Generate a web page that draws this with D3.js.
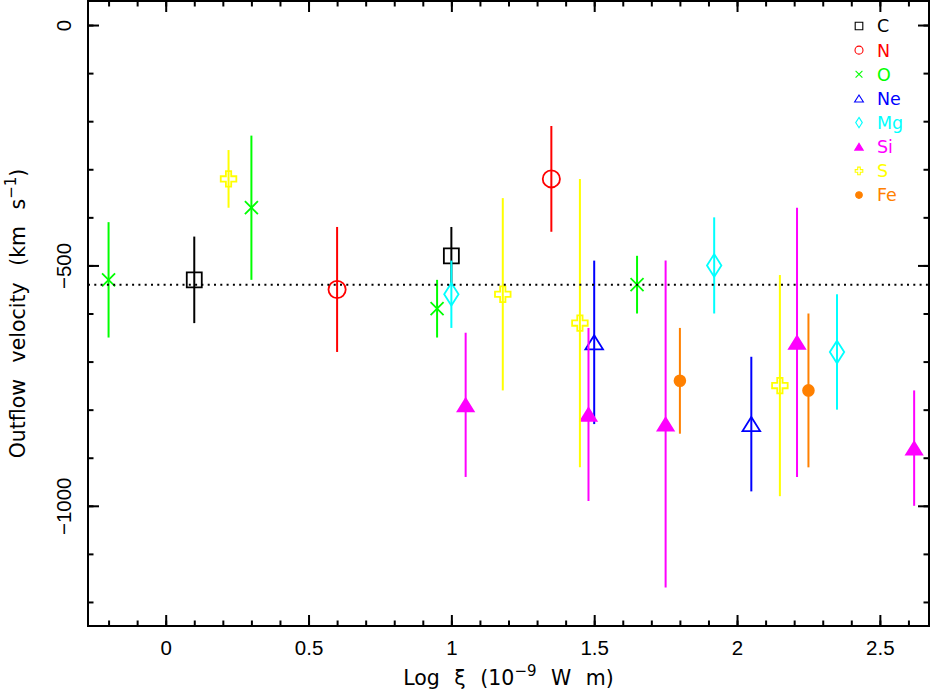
<!DOCTYPE html>
<html>
<head>
<meta charset="utf-8">
<script src="https://cdn.jsdelivr.net/npm/d3@7"></script>
<style>
  html, body { margin: 0; padding: 0; background: #fff; }
  svg { display: block; font-family: "DejaVu Sans", sans-serif; }
</style>
</head>
<body>
<div id="chart"></div>
<script>
// Outflow velocity per ion vs ionisation parameter, PGPLOT-style frame.

const elements = ["C", "N", "O", "Ne", "Mg", "Si", "S", "Fe"];
const elemColors = ["#000000", "#ff0000", "#00ff00", "#0000ff", "#00ffff", "#ff00ff", "#ffff00", "#ff8000"];

// one entry per measurement
const pointElem = ["O", "C", "S", "O", "N", "O", "C", "Mg", "Si", "S", "N", "S",
                   "Si", "Ne", "O", "Si", "Fe", "Mg", "Ne", "S", "Si", "Fe", "Mg", "Si"];
const pointXi   = [-0.2, 0.1, 0.22, 0.3, 0.6, 0.95, 1.0, 1.0, 1.05, 1.18, 1.35, 1.45,
                   1.48, 1.5, 1.65, 1.75, 1.8, 1.92, 2.05, 2.15, 2.21, 2.25, 2.35, 2.62];
const pointVel  = [-530, -530, -320, -380, -550, -590, -480, -560, -790, -560, -320, -620,
                   -810, -660, -540, -830, -740, -500, -830, -750, -660, -760, -680, -880];
const pointErr  = [120, 90, 60, 150, 130, 60, 60, 70, 150, 200, 110, 300,
                   180, 170, 60, 340, 110, 100, 140, 230, 280, 160, 120, 120];

const meanVel = -540;
const xMajor = [0, 0.5, 1, 1.5, 2, 2.5];
const yMajor = [0, -500, -1000];

const W = 931, H = 692;
const m = { t: 1, r: 2, b: 66, l: 88 };

// marker shapes (size = half width in px)
const symSquare = { draw(c, s) { c.rect(-s, -s, 2 * s, 2 * s); } };
const symCircle = { draw(c, s) { c.moveTo(s, 0); c.arc(0, 0, s, 0, 2 * Math.PI); } };
const symX = { draw(c, s) { c.moveTo(-s, -s); c.lineTo(s, s); c.moveTo(s, -s); c.lineTo(-s, s); } };
const symTri = { draw(c, s) { const h = s * 0.8; c.moveTo(0, -h); c.lineTo(s, h); c.lineTo(-s, h); c.closePath(); } };
const symDiamond = { draw(c, s) { const h = s * 1.57; c.moveTo(0, -h); c.lineTo(s, 0); c.lineTo(0, h); c.lineTo(-s, 0); c.closePath(); } };
const symPlus = { draw(c, s) {
  const a = s * 0.34;
  c.moveTo(-a, -s); c.lineTo(a, -s); c.lineTo(a, -a); c.lineTo(s, -a); c.lineTo(s, a); c.lineTo(a, a);
  c.lineTo(a, s); c.lineTo(-a, s); c.lineTo(-a, a); c.lineTo(-s, a); c.lineTo(-s, -a); c.lineTo(-a, -a); c.closePath();
} };

const markers = {
  C:  { type: symSquare,  size: 7.5, leg: 3.8, fill: false },
  N:  { type: symCircle,  size: 8.6, leg: 4.0, fill: false },
  O:  { type: symX,       size: 6.5, leg: 3.4, fill: false },
  Ne: { type: symTri,     size: 8.8, leg: 4.4, fill: false },
  Mg: { type: symDiamond, size: 7.2, leg: 3.3, fill: false },
  Si: { type: symTri,     size: 8.0, leg: 4.2, fill: true },
  S:  { type: symPlus,    size: 7.8, leg: 3.8, fill: false },
  Fe: { type: symCircle,  size: 5.4, leg: 3.3, fill: true },
};
const color = d3.scaleOrdinal(elements, elemColors);

const svg = d3.select("#chart").append("svg").attr("width", W).attr("height", H);

const x = d3.scaleLinear().domain([-0.272, 2.672]).range([m.l, W - m.r]);
const y = d3.scaleLinear().domain([-1250, 50]).range([H - m.b, m.t]);

const fmt = (d) => (d < 0 ? "\u2212" + Math.abs(d) : String(d));
const xMinor = d3.range(-2, 27).map((d) => d / 10);
const yMinor = d3.range(-12, 1).map((d) => d * 100);

function axis(gen, scale, major, minor, tr, labels) {
  const g = svg.append("g").attr("transform", tr);
  g.append("g").call(gen(scale).tickValues(minor).tickSize(-5.5).tickFormat(""));
  const mj = g.append("g").call(gen(scale).tickValues(major).tickSize(-11).tickPadding(14)
    .tickFormat(labels ? fmt : ""));
  g.selectAll(".domain").remove();
  g.selectAll("line").attr("stroke", "#000").attr("stroke-width", 2);
  mj.selectAll("text").attr("fill", "#000").style("font-size", "20.5px");
  return mj;
}

axis(d3.axisBottom, x, xMajor, xMinor, `translate(0,${H - m.b})`, true);
axis(d3.axisTop, x, xMajor, xMinor, `translate(0,${m.t})`, false);
const yl = axis(d3.axisLeft, y, yMajor, yMinor, `translate(${m.l},0)`, true);
axis(d3.axisRight, y, yMajor, yMinor, `translate(${W - m.r},0)`, false);

yl.selectAll("text")
  .attr("transform", "rotate(-90)")
  .attr("x", 0).attr("y", -17).attr("dy", null)
  .attr("text-anchor", "middle");

// frame
svg.append("rect")
  .attr("x", m.l).attr("y", m.t)
  .attr("width", W - m.r - m.l).attr("height", H - m.b - m.t)
  .attr("fill", "none").attr("stroke", "#000").attr("stroke-width", 2);

// points grouped by element, drawn in legend order
const pts = pointXi.map((d, i) => ({ el: pointElem[i], xi: d, v: pointVel[i], e: pointErr[i] }));
elements.forEach((el) => {
  const rows = pts.filter((p) => p.el === el);
  const mk = markers[el];
  const g = svg.append("g");
  g.selectAll("line").data(rows).join("line")
    .attr("x1", (d) => x(d.xi)).attr("x2", (d) => x(d.xi))
    .attr("y1", (d) => y(d.v + d.e)).attr("y2", (d) => y(d.v - d.e))
    .attr("stroke", color(el)).attr("stroke-width", 2);
  g.selectAll("path").data(rows).join("path")
    .attr("transform", (d) => `translate(${x(d.xi)},${y(d.v)})`)
    .attr("d", d3.symbol().type(mk.type).size(mk.size))
    .attr("fill", mk.fill ? color(el) : "none")
    .attr("stroke", color(el)).attr("stroke-width", 1.8);
});

// mean velocity
svg.append("line")
  .attr("x1", m.l).attr("x2", W - m.r)
  .attr("y1", y(meanVel)).attr("y2", y(meanVel))
  .attr("stroke", "#000").attr("stroke-width", 2).attr("stroke-dasharray", "2,4.3");

// legend
const leg = svg.append("g").attr("transform", "translate(859,26)");
elements.forEach((el, i) => {
  const mk = markers[el];
  const row = leg.append("g").attr("transform", `translate(0,${i * 24.15})`);
  row.append("path")
    .attr("d", d3.symbol().type(mk.type).size(mk.leg))
    .attr("fill", mk.fill ? color(el) : "none")
    .attr("stroke", color(el)).attr("stroke-width", 1.1);
  row.append("text").attr("x", 18).attr("y", 6.4)
    .attr("fill", color(el)).style("font-size", "17.5px").text(el);
});

// axis titles
const xt = svg.append("text")
  .attr("x", (m.l + W - m.r) / 2).attr("y", 685)
  .attr("text-anchor", "middle").style("font-size", "20.5px").style("word-spacing", "8px");
xt.append("tspan").text("Log \u03be (10");
xt.append("tspan").attr("dy", -9).style("font-size", "15px").text("\u22129");
xt.append("tspan").attr("dy", 9).text(" W m)");

const yt = svg.append("text")
  .attr("transform", `translate(25,${(m.t + H - m.b) / 2}) rotate(-90)`)
  .attr("text-anchor", "middle").style("font-size", "20.5px").style("word-spacing", "10px");
yt.append("tspan").text("Outflow velocity (km s");
yt.append("tspan").attr("dy", -9).style("font-size", "15px").text("\u22121");
yt.append("tspan").attr("dy", 9).text(")");
</script>
</body>
</html>
